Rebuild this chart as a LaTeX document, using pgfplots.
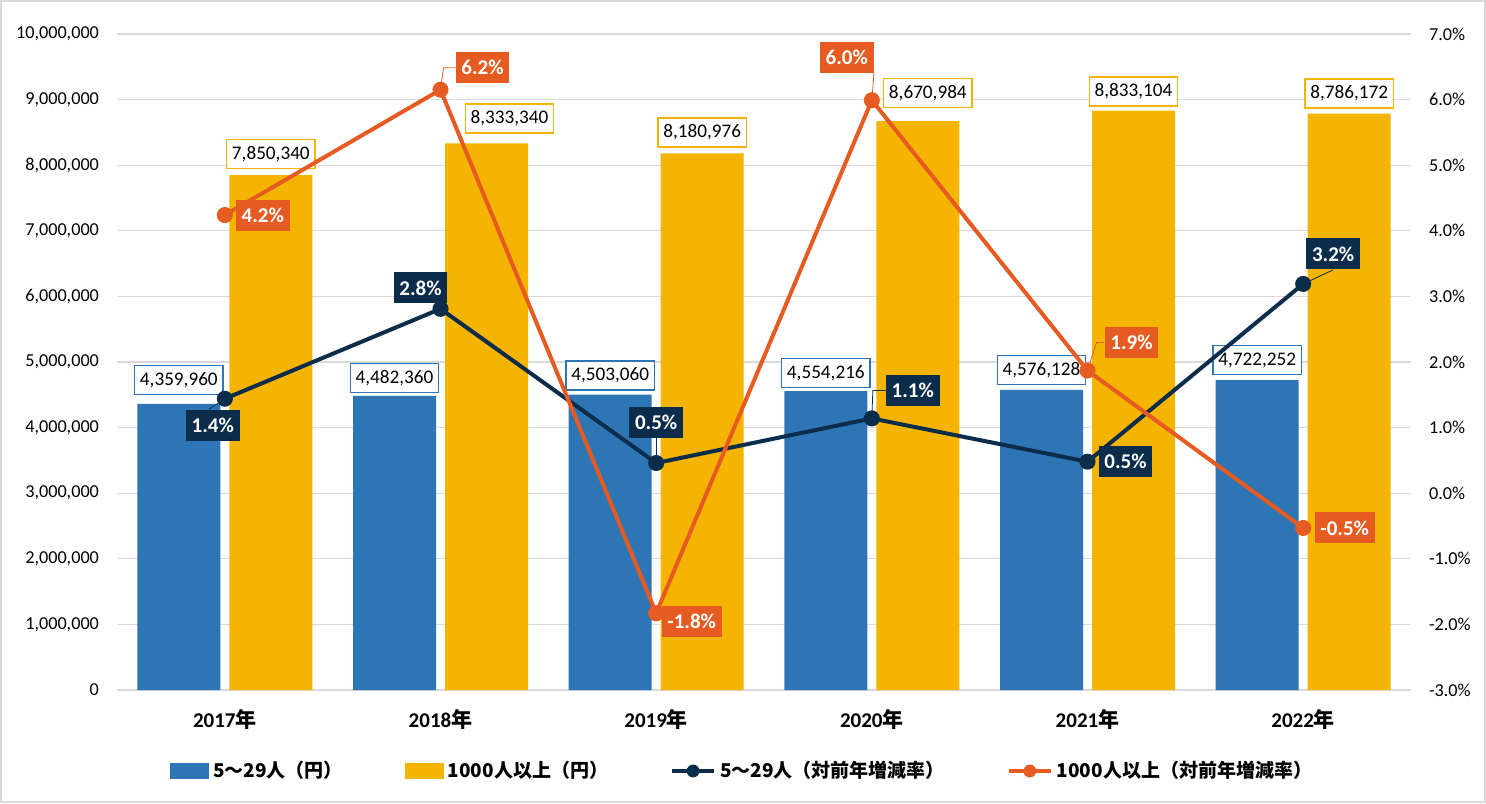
\documentclass[border=0pt]{standalone}
\usepackage{pgfplots}
\pgfplotsset{compat=1.18}
\usepackage{fontspec}
\setmainfont{Carlito}
\newfontfamily\jp{Noto Sans CJK JP}
\definecolor{blue1}{HTML}{2E75B6}
\definecolor{gold}{HTML}{F4B400}
\definecolor{navy}{HTML}{0C2C4C}
\definecolor{orng}{HTML}{E55B22}
\definecolor{gridgray}{HTML}{D9D9D9}
\begin{document}
\begin{tikzpicture}
\path[use as bounding box] (0,0) rectangle (743pt,401.5pt);
\draw[gridgray, line width=1pt] (0.5pt,0.5pt) rectangle (742.5pt,401pt);
\tikzset{
  barlab/.style={fill=white, draw=#1, line width=0.7pt, font=\fontsize{9.6}{11}\selectfont,
     inner xsep=2.6pt, inner ysep=0pt, minimum height=14.5pt},
  pctlab/.style={fill=#1, text=white, font=\bfseries\fontsize{10.5}{12}\selectfont,
     inner xsep=2.8pt, inner ysep=0pt, minimum height=15.5pt},
}
\begin{axis}[
  at={(58.5pt,56.5pt)}, anchor=south west,
  scale only axis, width=647pt, height=328pt,
  clip=false,
  scaled y ticks=false,
  xmin=-0.5, xmax=5.5, ymin=0, ymax=10000000,
  xtick={0,1,2,3,4,5},
  xticklabels={{\bfseries 2017{\jp 年}},{\bfseries 2018{\jp 年}},{\bfseries 2019{\jp 年}},{\bfseries 2020{\jp 年}},{\bfseries 2021{\jp 年}},{\bfseries 2022{\jp 年}}},
  xticklabel style={font=\fontsize{10.5}{12}\selectfont, yshift=-6pt},
  ytick={0,1000000,2000000,3000000,4000000,5000000,6000000,7000000,8000000,9000000,10000000},
  yticklabels={0,{1,000,000},{2,000,000},{3,000,000},{4,000,000},{5,000,000},{6,000,000},{7,000,000},{8,000,000},{9,000,000},{10,000,000}},
  yticklabel style={font=\fontsize{9.1}{11}\selectfont, xshift=-5.5pt},
  axis line style={draw=none},
  major tick length=0pt,
  ymajorgrids, grid style={draw=gridgray, line width=0.6pt},
]
\addplot[ybar, fill=blue1, draw=none, bar width=41.5pt, bar shift=-23pt] coordinates {
  (0,4359960) (1,4482360) (2,4503060) (3,4554216) (4,4576128) (5,4722252)};
\addplot[ybar, fill=gold, draw=none, bar width=41.5pt, bar shift=23pt] coordinates {
  (0,7850340) (1,8333340) (2,8180976) (3,8670984) (4,8833104) (5,8786172)};
% bar value labels
\node[barlab=blue1, xshift=-23pt, yshift=12pt] at (axis cs:0,4359960) {4,359,960};
\node[barlab=blue1, xshift=-23pt, yshift=9pt] at (axis cs:1,4482360) {4,482,360};
\node[barlab=blue1, xshift=-23pt, yshift=9.5pt] at (axis cs:2,4503060) {4,503,060};
\node[barlab=blue1, xshift=-23pt, yshift=9pt] at (axis cs:3,4554216) {4,554,216};
\node[barlab=blue1, xshift=-23pt, yshift=10pt] at (axis cs:4,4576128) {4,576,128};
\node[barlab=blue1, xshift=-23pt, yshift=10pt] at (axis cs:5,4722252) {4,722,252};
\node[barlab=gold, xshift=23pt, yshift=10.5pt] at (axis cs:0,7850340) {7,850,340};
\node[barlab=gold, xshift=34.5pt, yshift=12.5pt] at (axis cs:1,8333340) {8,333,340};
\node[barlab=gold, xshift=23pt, yshift=10.5pt] at (axis cs:2,8180976) {8,180,976};
\node[barlab=gold, xshift=28pt, yshift=14pt] at (axis cs:3,8670984) {8,670,984};
\node[barlab=gold, xshift=23pt, yshift=9.5pt] at (axis cs:4,8833104) {8,833,104};
\node[barlab=gold, xshift=23pt, yshift=10pt] at (axis cs:5,8786172) {8,786,172};
\end{axis}
\begin{axis}[
  at={(58.5pt,56.5pt)}, anchor=south west,
  scale only axis, width=647pt, height=328pt,
  clip=false,
  xmin=-0.5, xmax=5.5, ymin=-3, ymax=7,
  axis x line=none,
  axis y line*=right,
  axis line style={draw=none},
  major tick length=0pt,
  ytick={-3,-2,-1,0,1,2,3,4,5,6,7},
  yticklabels={-3.0\%,-2.0\%,-1.0\%,0.0\%,1.0\%,2.0\%,3.0\%,4.0\%,5.0\%,6.0\%,7.0\%},
  yticklabel style={font=\fontsize{9.1}{11}\selectfont, xshift=5.5pt},
  legend columns=4,
  legend style={at={(0.484,-0.1235)}, anchor=center, draw=none, fill=none,
    font=\jp\bfseries\fontsize{9.5}{11}\selectfont,
    /tikz/every even column/.append style={column sep=29pt}},
]
\addlegendimage{legend image code/.code={\fill[blue1] (0pt,-3.6pt) rectangle (19pt,3.6pt);}}
\addlegendentry{5～29人（円）}
\addlegendimage{legend image code/.code={\fill[gold] (0pt,-3.6pt) rectangle (19pt,3.6pt);}}
\addlegendentry{1000人以上（円）}
\addlegendimage{legend image code/.code={\draw[navy, line width=2pt] (0pt,0pt) -- (21pt,0pt); \fill[navy] (10.5pt,0pt) circle (3pt);}}
\addlegendentry{5～29人（対前年増減率）}
\addlegendimage{legend image code/.code={\draw[orng, line width=2pt] (0pt,0pt) -- (21pt,0pt); \fill[orng] (10.5pt,0pt) circle (3pt);}}
\addlegendentry{1000人以上（対前年増減率）}
\addplot[forget plot, navy, line width=2pt, mark=*, mark size=3pt, mark options={fill=navy, draw=navy}] coordinates {
  (0,1.44) (1,2.81) (2,0.46) (3,1.14) (4,0.48) (5,3.19)};
\addplot[forget plot, orng, line width=2pt, mark=*, mark size=3pt, mark options={fill=orng, draw=orng}] coordinates {
  (0,4.24) (1,6.15) (2,-1.83) (3,5.99) (4,1.87) (5,-0.53)};
% navy labels
\node[pctlab=navy, xshift=-6pt, yshift=-13.25pt] (n0) at (axis cs:0,1.44) {1.4\%};
\node[pctlab=navy, xshift=-10pt, yshift=10.5pt] (n1) at (axis cs:1,2.81) {2.8\%};
\node[pctlab=navy, xshift=0pt, yshift=20.5pt] (n2) at (axis cs:2,0.46) {0.5\%};
\node[pctlab=navy, xshift=20.5pt, yshift=14pt] (n3) at (axis cs:3,1.14) {1.1\%};
\node[pctlab=navy, xshift=19pt, yshift=0pt] (n4) at (axis cs:4,0.48) {0.5\%};
\node[pctlab=navy, xshift=15pt, yshift=15pt] (n5) at (axis cs:5,3.19) {3.2\%};
% orange labels
\node[pctlab=orng, xshift=19pt, yshift=0pt] (o0) at (axis cs:0,4.24) {4.2\%};
\node[pctlab=orng, xshift=21pt, yshift=11pt] (o1) at (axis cs:1,6.15) {6.2\%};
\node[pctlab=orng, xshift=17.75pt, yshift=-4pt] (o2) at (axis cs:2,-1.83) {-1.8\%};
\node[pctlab=orng, xshift=-12.5pt, yshift=21.5pt] (o3) at (axis cs:3,5.99) {6.0\%};
\node[pctlab=orng, xshift=22pt, yshift=14pt] (o4) at (axis cs:4,1.87) {1.9\%};
\node[pctlab=orng, xshift=20.75pt, yshift=0pt] (o5) at (axis cs:5,-0.53) {-0.5\%};
% leader lines
\draw[navy, line width=0.4pt] (axis cs:0,1.44) -- ([xshift=-2pt]n0.north);
\draw[navy, line width=0.4pt] (axis cs:2,0.46) -- (n2.south);
\draw[navy, line width=0.4pt] (axis cs:3,1.14) -- ([xshift=0.5pt,yshift=14pt]axis cs:3,1.14) -- (n3.west);
\draw[navy, line width=0.4pt] (axis cs:5,3.19) -- (n5.south);
\draw[orng, line width=0.4pt] (axis cs:1,6.15) -- ([xshift=1.5pt,yshift=11pt]axis cs:1,6.15) -- (o1.west);
\draw[orng, line width=0.4pt] (axis cs:3,5.99) -- (o3.south east);
\draw[orng, line width=0.4pt] (axis cs:4,1.87) -- ([xshift=4.5pt,yshift=14pt]axis cs:4,1.87) -- (o4.west);
\end{axis}
\end{tikzpicture}
\end{document}
